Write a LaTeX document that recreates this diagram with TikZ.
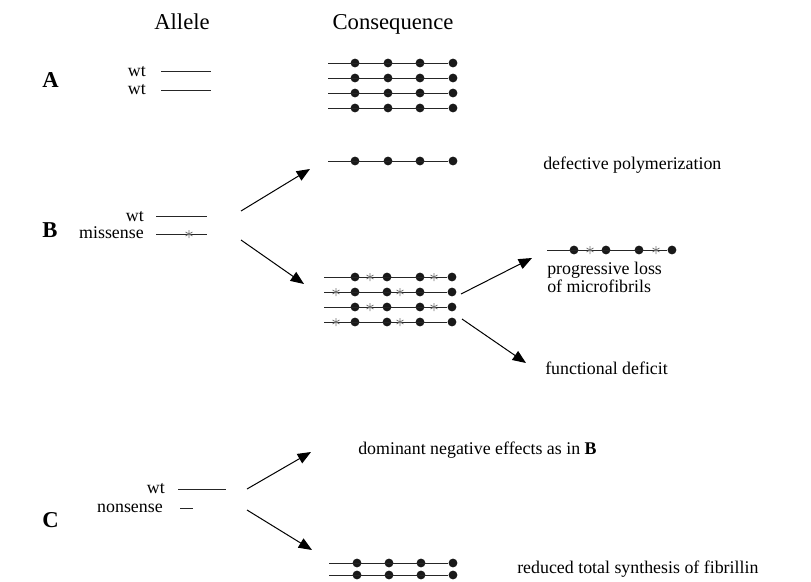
\documentclass[tikz,border=0pt]{standalone}
\usepackage{fontspec}
\setmainfont{Liberation Serif}
\usetikzlibrary{arrows.meta}
\tikzset{
  lbl/.style={font=\fontsize{13.4}{16}\selectfont, inner sep=0pt},
  hdr/.style={font=\fontsize{17}{20}\selectfont, inner sep=0pt},
  sec/.style={font=\fontsize{17}{20}\selectfont\bfseries, inner sep=0pt},
  strand/.style={line width=0.75pt, draw=black!85},
  bead/.style={circle, fill=black!90, inner sep=0pt, minimum size=6.6pt},
  arr/.style={line width=0.75pt, -{Triangle[length=10pt,width=8pt]}},
  pics/ast/.style={code={
    \draw[line width=0.6pt, black!55] (0,-3pt) -- (0,3pt)
      (-2.6pt,-1.5pt) -- (2.6pt,1.5pt) (-2.6pt,1.5pt) -- (2.6pt,-1.5pt);}}
}
\begin{document}
\begin{tikzpicture}[x=0.75pt,y=-0.75pt]
\useasboundingbox (0,0) rectangle (811,582);

% headers
\node[hdr, anchor=base] (hAllele) at (182,29) {Allele};
\node[hdr, anchor=base] (hCons) at (393,29) {Consequence};

% section labels
\node[sec, anchor=base west] (secA) at (42,87) {A};
\node[sec, anchor=base west] (secB) at (42,237) {B};
\node[sec, anchor=base west] (secC) at (42,527) {C};

% ---- A alleles
\node[lbl, anchor=base east] (aWt1) at (146,76) {wt};
\node[lbl, anchor=base east] (aWt2) at (146,94) {wt};
\coordinate (aL1s) at (161,71.5); \coordinate (aL1e) at (211,71.5);
\coordinate (aL2s) at (161,90); \coordinate (aL2e) at (211,90);
\draw[strand] (aL1s) -- (aL1e);
\draw[strand] (aL2s) -- (aL2e);

% ---- A consequence rows
\foreach \r/\y in {1/63,2/78,3/93,4/108}{
  \coordinate (ar\r) at (328,\y);
  \foreach \k/\x in {1/355,2/388,3/420,4/453}{
    \node[bead] (ar\r-\k) at (\x,\y) {};
  }
  \draw[strand] (ar\r) -- (ar\r-4);
}

% ---- defective polymerization row
\coordinate (dp) at (328,161);
\foreach \k/\x in {1/355,2/388,3/420,4/453}{
  \node[bead] (dp-\k) at (\x,161) {};
}
\draw[strand] (dp) -- (dp-4);
\node[lbl, anchor=base west] (tDef) at (543,169.5) {defective polymerization};

% ---- B alleles
\node[lbl, anchor=base east] (bWt) at (144,221) {wt};
\node[lbl, anchor=base east] (bMis) at (144,238.5) {missense};
\coordinate (bL1s) at (156,216.5); \coordinate (bL1e) at (207,216.5);
\coordinate (bL2s) at (156,234); \coordinate (bL2e) at (207,234);
\draw[strand] (bL1s) -- (bL1e);
\draw[strand] (bL2s) -- (bL2e);
\pic at (189,234) {ast};

% B arrows
\coordinate (bA1s) at (241,211); \coordinate (bA1e) at (310,169);
\coordinate (bA2s) at (241,240); \coordinate (bA2e) at (304,284);
\draw[arr] (bA1s) -- (bA1e);
\draw[arr] (bA2s) -- (bA2e);

% ---- B consequence rows (mixed)
\foreach \r/\y in {1/277,2/292,3/307,4/322}{
  \coordinate (br\r) at (324,\y);
  \foreach \k/\x in {1/355,2/387,3/420,4/452}{
    \node[bead] (br\r-\k) at (\x,\y) {};
  }
  \draw[strand] (br\r) -- (br\r-4);
}
\pic at (370,277) {ast}; \pic at (434,277) {ast};
\pic at (336,292) {ast}; \pic at (400,292) {ast};
\pic at (370,307) {ast}; \pic at (434,307) {ast};
\pic at (336,322) {ast}; \pic at (400,322) {ast};

% arrows from B rows
\coordinate (bB1s) at (461,294); \coordinate (bB1e) at (532,258);
\coordinate (bB2s) at (462,319); \coordinate (bB2e) at (526,363);
\draw[arr] (bB1s) -- (bB1e);
\draw[arr] (bB2s) -- (bB2e);

% progressive loss row
\coordinate (pl) at (547,250);
\foreach \k/\x in {1/574,2/606,3/639,4/672}{
  \node[bead] (pl-\k) at (\x,250) {};
}
\draw[strand] (pl) -- (pl-4);
\pic at (590,250) {ast}; \pic at (656,250) {ast};
\node[lbl, anchor=base west] (tProg1) at (547,274.5) {progressive loss};
\node[lbl, anchor=base west] (tProg2) at (547,292.5) {of microfibrils};
\node[lbl, anchor=base west] (tFunc) at (545,374.5) {functional deficit};

% ---- C alleles
\node[lbl, anchor=base east] (cWt) at (165,493) {wt};
\node[lbl, anchor=base east] (cNon) at (163,512.5) {nonsense};
\coordinate (cL1s) at (178,489); \coordinate (cL1e) at (226,489);
\coordinate (cL2s) at (180,508); \coordinate (cL2e) at (193,508);
\draw[strand] (cL1s) -- (cL1e);
\draw[strand] (cL2s) -- (cL2e);

% C arrows
\coordinate (cA1s) at (247,489); \coordinate (cA1e) at (311,452);
\coordinate (cA2s) at (247,510); \coordinate (cA2e) at (312,550);
\draw[arr] (cA1s) -- (cA1e);
\draw[arr] (cA2s) -- (cA2e);

\node[lbl, anchor=base west] (tDom) at (358,454.5) {dominant negative effects as in \textbf{B}};

% C rows
\foreach \r/\y in {1/563,2/575}{
  \coordinate (cr\r) at (329,\y);
  \foreach \k/\x in {1/357,2/389,3/421,4/453}{
    \node[bead] (cr\r-\k) at (\x,\y) {};
  }
  \draw[strand] (cr\r) -- (cr\r-4);
}
\node[lbl, anchor=base west] (tRed) at (517,573) {reduced total synthesis of fibrillin};
\end{tikzpicture}
\end{document}
